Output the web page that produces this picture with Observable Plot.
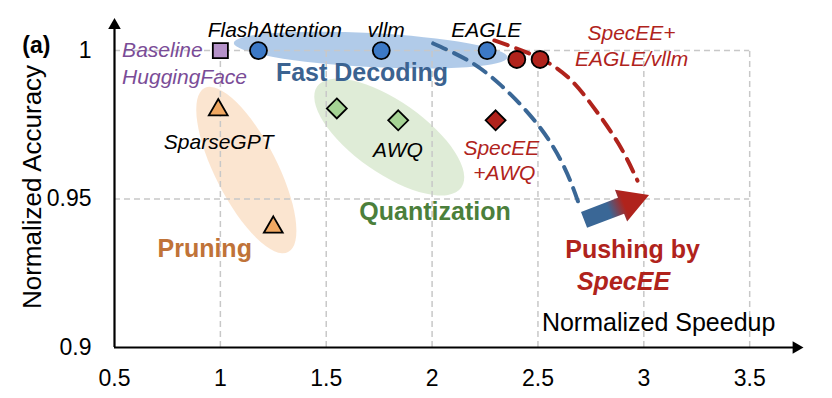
<!DOCTYPE html>
<html>
<head>
<meta charset="utf-8">
<script src="https://cdn.jsdelivr.net/npm/d3@7"></script>
<script src="https://cdn.jsdelivr.net/npm/@observablehq/plot@0.6"></script>
<style>
  html, body { margin: 0; padding: 0; background: white; }
  #chart svg { display: block; }
</style>
</head>
<body>
<div id="chart"></div>
<script>
// ---- data ----
const xTicks = [0.5, 1, 1.5, 2, 2.5, 3, 3.5];
const yTicks = [0.9, 0.95, 1];

const baselineSpeedup = [1.0];
const baselineAcc = [1.0];

const fastDecNames = ["FlashAttention", "vllm", "EAGLE"];
const fastDecSpeedup = [1.18, 1.76, 2.26];
const fastDecAcc = [1.0, 1.0, 1.0];

const specEESpeedup = [2.40, 2.51];
const specEEAcc = [0.997, 0.997];

const pruningSpeedup = [0.99, 1.25];
const pruningAcc = [0.98, 0.9405];

const quantSpeedup = [1.55, 1.84];
const quantAcc = [0.9805, 0.9765];

const specAwqSpeedup = [2.30];
const specAwqAcc = [0.9765];

// dashed "pushing" curves (data units)
const blueCurveX = [2.005, 2.171, 2.327, 2.502, 2.625, 2.696];
const blueCurveY = [1.0024, 0.9966, 0.9882, 0.9748, 0.9606, 0.9478];
const redCurveX = [2.294, 2.578, 2.753, 2.880, 2.970];
const redCurveY = [1.0034, 0.9946, 0.9818, 0.9687, 0.9562];

// gradient arrow (data units)
const arrowFrom = [2.72, 0.9428];
const arrowTo = [3.027, 0.9512];

// group ellipses: center (data units), radii (px), angle (deg)
const ellipseCX = [1.712, 1.800, 1.125];
const ellipseCY = [1.0, 0.9707, 0.9596];
const ellipseRX = [137, 88, 92];
const ellipseRY = [17, 36, 31];
const ellipseAngle = [3, 35, 63];
const ellipseFill = ["#a9c5e7", "#dbead3", "#fbe2cb"];

// ---- build tables ----
const zip = (xs, ys) => xs.map((x, i) => ({x, y: ys[i]}));
const baseline = zip(baselineSpeedup, baselineAcc);
const fastDec = zip(fastDecSpeedup, fastDecAcc);
const specEE = zip(specEESpeedup, specEEAcc);
const pruning = zip(pruningSpeedup, pruningAcc);
const quant = zip(quantSpeedup, quantAcc);
const specAwq = zip(specAwqSpeedup, specAwqAcc);
const blueCurve = zip(blueCurveX, blueCurveY);
const redCurve = zip(redCurveX, redCurveY);
const ellipses = ellipseCX.map((cx, i) => ({cx, cy: ellipseCY[i], rx: ellipseRX[i], ry: ellipseRY[i], a: ellipseAngle[i], fill: ellipseFill[i]}));

const FONT = "'Liberation Sans', Arial, Helvetica, sans-serif";
const RED = "#b0231c";

// annotation labels (data units)
const italicLabels = [
  {x: 1.257, y: 1.0067, text: "FlashAttention", fill: "black", anchor: "middle"},
  {x: 1.783, y: 1.0067, text: "vllm", fill: "black", anchor: "middle"},
  {x: 2.256, y: 1.0067, text: "EAGLE", fill: "black", anchor: "middle"},
  {x: 0.536, y: 1.0, text: "Baseline", fill: "#7a4c97", anchor: "start"},
  {x: 0.536, y: 0.9909, text: "HuggingFace", fill: "#7a4c97", anchor: "start"},
  {x: 0.992, y: 0.9690, text: "SparseGPT", fill: "black", anchor: "middle"},
  {x: 1.839, y: 0.9663, text: "AWQ", fill: "black", anchor: "middle"},
  {x: 2.327, y: 0.9670, text: "SpecEE", fill: RED, anchor: "middle"},
  {x: 2.341, y: 0.9586, text: "+AWQ", fill: RED, anchor: "middle"},
  {x: 2.942, y: 1.0057, text: "SpecEE+", fill: RED, anchor: "middle"},
  {x: 2.942, y: 0.9970, text: "EAGLE/vllm", fill: RED, anchor: "middle"}
];
const groupLabels = [
  {x: 1.669, y: 0.9926, text: "Fast Decoding", fill: "#3b6391"},
  {x: 2.014, y: 0.9455, text: "Quantization", fill: "#4b7f3b"},
  {x: 0.926, y: 0.9333, text: "Pruning", fill: "#c07338"},
  {x: 2.947, y: 0.9327, text: "Pushing by", fill: RED}
];

// ---- custom marks ----
function ellipseMark(index, scales) {
  const g = d3.create("svg:g");
  for (const e of ellipses) {
    const cx = scales.x(e.cx), cy = scales.y(e.cy);
    g.append("ellipse")
      .attr("cx", 0).attr("cy", 0).attr("rx", e.rx).attr("ry", e.ry)
      .attr("transform", `translate(${cx},${cy}) rotate(${e.a})`)
      .attr("fill", e.fill).attr("fill-opacity", 0.9);
  }
  return g.node();
}

function arrowMark(index, scales) {
  const x0 = scales.x(arrowFrom[0]), y0 = scales.y(arrowFrom[1]);
  const x1 = scales.x(arrowTo[0]), y1 = scales.y(arrowTo[1]);
  const dx = x1 - x0, dy = y1 - y0, L = Math.hypot(dx, dy);
  const ux = dx / L, uy = dy / L, nx = -uy, ny = ux;
  const bw = 8.5, hw = 17, hl = 30;
  const bx = x1 - ux * hl, by = y1 - uy * hl;
  const pts = [
    [x0 + nx * bw, y0 + ny * bw],
    [bx + nx * bw, by + ny * bw],
    [bx + nx * hw, by + ny * hw],
    [x1, y1],
    [bx - nx * hw, by - ny * hw],
    [bx - nx * bw, by - ny * bw],
    [x0 - nx * bw, y0 - ny * bw]
  ];
  const g = d3.create("svg:g");
  const grad = g.append("defs").append("linearGradient")
    .attr("id", "pushGrad").attr("gradientUnits", "userSpaceOnUse")
    .attr("x1", x0).attr("y1", y0).attr("x2", x1).attr("y2", y1);
  grad.append("stop").attr("offset", "0").attr("stop-color", "#3a6796");
  grad.append("stop").attr("offset", "0.38").attr("stop-color", "#3a6796");
  grad.append("stop").attr("offset", "0.62").attr("stop-color", "#b0231c");
  grad.append("stop").attr("offset", "1").attr("stop-color", "#b0231c");
  g.append("path").attr("d", "M" + pts.map(p => p.join(",")).join("L") + "Z").attr("fill", "url(#pushGrad)");
  return g.node();
}

const xMax = 3.72, yMax = 1.0085;

const chart = Plot.plot({
  width: 832,
  height: 398,
  marginLeft: 114,
  marginRight: 32,
  marginTop: 18,
  marginBottom: 51,
  x: {domain: [0.5, 3.74]},
  y: {domain: [0.9, 1.0108]},
  style: {fontFamily: FONT, fontSize: "23px", background: "white", color: "black", overflow: "visible"},
  marks: [
    ellipseMark,
    // grid
    Plot.ruleX(xTicks.slice(1), {y1: 0.9, y2: 1.0, stroke: "#c8c8c8", strokeWidth: 1.5, strokeDasharray: "6,4"}),
    Plot.ruleY(yTicks.slice(1), {x1: 0.5, x2: 3.5, stroke: "#c8c8c8", strokeWidth: 1.5, strokeDasharray: "6,4"}),
    // axes
    Plot.axisX({ticks: xTicks, tickSize: 0, tickPadding: 22, tickFormat: d => String(d), label: null}),
    Plot.axisY({ticks: yTicks, tickSize: 0, tickPadding: 23, tickFormat: d => String(d), label: null}),
    Plot.ruleY([0.9], {x1: 0.5, x2: xMax, stroke: "black", strokeWidth: 2.2}),
    Plot.ruleX([0.5], {y1: 0.9, y2: yMax, stroke: "black", strokeWidth: 2.2}),
    Plot.dot([{x: xMax, y: 0.9}], {x: "x", y: "y", symbol: "triangle2", rotate: 90, r: 6, fill: "black", stroke: "none"}),
    Plot.dot([{x: 0.5, y: yMax}], {x: "x", y: "y", symbol: "triangle2", r: 6, fill: "black", stroke: "none"}),
    // curves
    Plot.line(blueCurve, {x: "x", y: "y", curve: "natural", stroke: "#3a6796", strokeWidth: 4, strokeDasharray: "14,9"}),
    Plot.line(redCurve, {x: "x", y: "y", curve: "natural", stroke: RED, strokeWidth: 4, strokeDasharray: "14,9"}),
    // points
    Plot.dot(baseline, {x: "x", y: "y", symbol: "square", r: 8.5, fill: "#b592c9", stroke: "black", strokeWidth: 1.8}),
    Plot.dot(fastDec, {x: "x", y: "y", symbol: "circle", r: 8.5, fill: "#3c79c6", stroke: "black", strokeWidth: 1.8}),
    Plot.dot(specEE, {x: "x", y: "y", symbol: "circle", r: 8.5, fill: RED, stroke: "black", strokeWidth: 1.8}),
    Plot.dot(pruning, {x: "x", y: "y", symbol: "triangle2", r: 9, fill: "#f0a862", stroke: "black", strokeWidth: 1.8}),
    Plot.dot(quant, {x: "x", y: "y", symbol: "diamond2", r: 9, fill: "#a5d394", stroke: "black", strokeWidth: 1.8}),
    Plot.dot(specAwq, {x: "x", y: "y", symbol: "diamond2", r: 9, fill: RED, stroke: "black", strokeWidth: 1.8}),
    arrowMark,
    // labels
    Plot.text(italicLabels.filter(d => d.anchor === "middle"), {x: "x", y: "y", text: "text", fill: "fill", fontSize: 21, fontStyle: "italic", textAnchor: "middle"}),
    Plot.text(italicLabels.filter(d => d.anchor === "start"), {x: "x", y: "y", text: "text", fill: "fill", fontSize: 21, fontStyle: "italic", textAnchor: "start"}),
    Plot.text(groupLabels, {x: "x", y: "y", text: "text", fill: "fill", fontSize: 25, fontWeight: "bold", textAnchor: "middle"}),
    Plot.text([{x: 2.904, y: 0.9219, text: "SpecEE"}], {x: "x", y: "y", text: "text", fill: RED, fontSize: 25, fontWeight: "bold", fontStyle: "italic", textAnchor: "middle"}),
    Plot.text([{x: 3.070, y: 0.9084, text: "Normalized Speedup"}], {x: "x", y: "y", text: "text", fill: "black", fontSize: 25, textAnchor: "middle"}),
    Plot.text([{x: 0.131, y: 1.0017, text: "(a)"}], {x: "x", y: "y", text: "text", fill: "black", fontSize: 23, fontWeight: "bold", textAnchor: "middle"}),
    Plot.text(["Normalized Accuracy"], {frameAnchor: "left", dx: -82, dy: 4, rotate: -90, fontSize: 26, fill: "black", textAnchor: "middle"})
  ]
});

document.getElementById("chart").appendChild(chart);
</script>
</body>
</html>
